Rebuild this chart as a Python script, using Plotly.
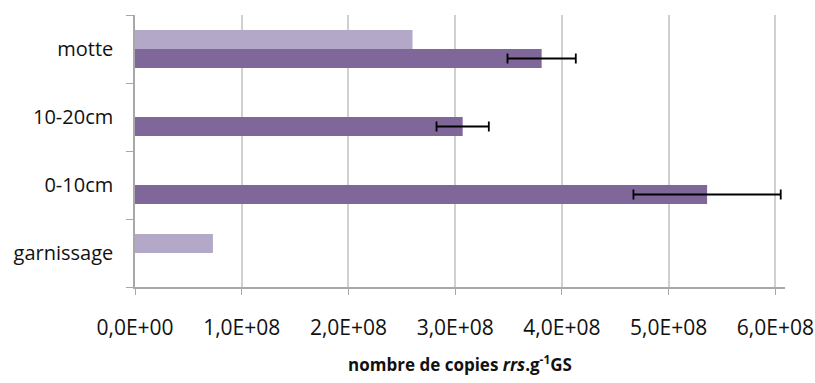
import plotly.graph_objects as go

categories = ["garnissage", "0-10cm", "10-20cm", "motte"]
dark_values = [None, 5.36e8, 3.07e8, 3.81e8]
dark_errors = [0, 0.69e8, 0.245e8, 0.32e8]
light_values = [0.73e8, None, None, 2.60e8]
tick_vals = [0, 1e8, 2e8, 3e8, 4e8, 5e8, 6e8]
tick_text = ["0,0E+00", "1,0E+08", "2,0E+08", "3,0E+08", "4,0E+08", "5,0E+08", "6,0E+08"]

fig = go.Figure()
fig.add_trace(go.Bar(
    y=categories, x=dark_values, orientation="h",
    marker=dict(color="#80679a", line=dict(width=0)),
    error_x=dict(type="data", array=dark_errors, visible=True,
                 color="#000000", thickness=1.8, width=5),
    showlegend=False,
))
fig.add_trace(go.Bar(
    y=categories, x=light_values, orientation="h",
    marker=dict(color="#b3a8c7", line=dict(width=0)),
    showlegend=False,
))

fig.update_layout(
    width=815, height=383,
    barmode="group", bargap=0.44, bargroupgap=0,
    plot_bgcolor="white", paper_bgcolor="white",
    margin=dict(l=135, r=30, t=15, b=96),
    font=dict(family="Open Sans", size=15, color="#111111"),
)
fig.update_xaxes(
    range=[0, 6.09e8], tickvals=tick_vals, ticktext=tick_text,
    showgrid=True, gridcolor="#d0d0d0", gridwidth=1.5,
    showline=True, linecolor="#a8a8a8", linewidth=1.5,
    ticks="outside", ticklen=6, tickcolor="#a8a8a8",
    zeroline=False, automargin=False,
    tickfont=dict(size=21),
    ticklabelstandoff=15,
    title=dict(text="<b>nombre de copies <i>rrs</i>.g<sup>-1</sup>GS</b>",
               font=dict(size=17), standoff=19),
)
fig.update_yaxes(
    categoryorder="array", categoryarray=categories,
    showline=True, linecolor="#a8a8a8", linewidth=1.5,
    ticks="outside", ticklen=7, tickcolor="#a8a8a8", tickson="boundaries",
    showgrid=False, tickfont=dict(size=20), automargin=False,
    ticklabelstandoff=16,
)

fig.write_html("out.html", config={"displayModeBar": False},
               post_script="document.body.style.margin='0';")
